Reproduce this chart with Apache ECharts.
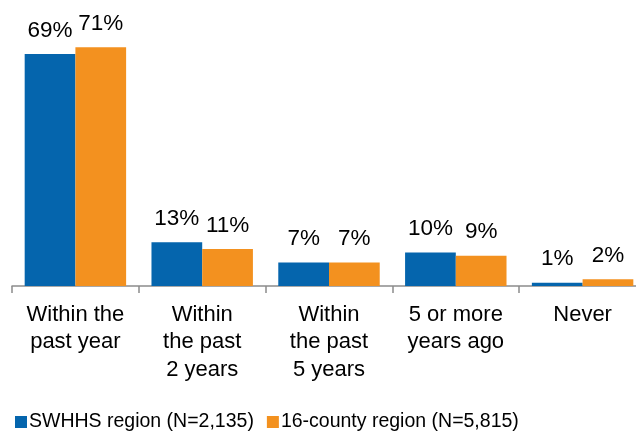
<!DOCTYPE html>
<html>
<head>
<meta charset="utf-8">
<script src="https://cdn.jsdelivr.net/npm/echarts@6/dist/echarts.min.js"></script>
<style>
  html, body { margin: 0; padding: 0; background: #fff; }
  #chart { width: 636px; height: 434px; }
</style>
</head>
<body>
<div id="chart"></div>
<script>
const categories = ['Within the\npast year', 'Within\nthe past\n2 years', 'Within\nthe past\n5 years', '5 or more\nyears ago', 'Never']
const swhhsValues = [69, 13, 7, 10, 1]
const countyValues = [71, 11, 7, 9, 2]
const seriesNames = ['SWHHS region (N=2,135)', '16-county region (N=5,815)']

const chart = echarts.init(document.getElementById('chart'))

const labelStyle = {
  show: true,
  position: 'top',
  distance: 12,
  formatter: '{c}%',
  color: '#000',
  fontSize: 22.5,
  fontFamily: 'Liberation Sans, Arial, sans-serif'
}

chart.setOption({
  animation: false,
  textStyle: { fontFamily: 'Liberation Sans, Arial, sans-serif' },
  grid: {
    left: 12,
    right: -10,
    top: 17,
    bottom: 148,
    containLabel: false,
    outerBoundsMode: 'none'
  },
  legend: {
    left: 10,
    top: 407,
    itemWidth: 12,
    itemHeight: 12,
    itemGap: 13,
    icon: 'rect',
    textStyle: { fontSize: 19.5, color: '#000', padding: [0, 0, 0, -3] },
    data: seriesNames
  },
  xAxis: {
    type: 'category',
    data: categories,
    axisLine: { lineStyle: { color: '#8c8c8c', width: 1.5 } },
    axisTick: { show: true, length: 7, lineStyle: { color: '#8c8c8c', width: 1.5 } },
    axisLabel: {
      color: '#000',
      fontSize: 22,
      lineHeight: 27.5,
      margin: 15,
      interval: 0
    }
  },
  yAxis: {
    type: 'value',
    min: 0,
    max: 80,
    show: false,
    splitLine: { show: false }
  },
  series: [
    {
      name: seriesNames[0],
      type: 'bar',
      data: swhhsValues,
      barGap: '0%',
      barCategoryGap: '20%',
      itemStyle: { color: '#0565AD' },
      label: labelStyle
    },
    {
      name: seriesNames[1],
      type: 'bar',
      data: countyValues,
      itemStyle: { color: '#F3911F' },
      label: labelStyle
    }
  ]
})
</script>
</body>
</html>
